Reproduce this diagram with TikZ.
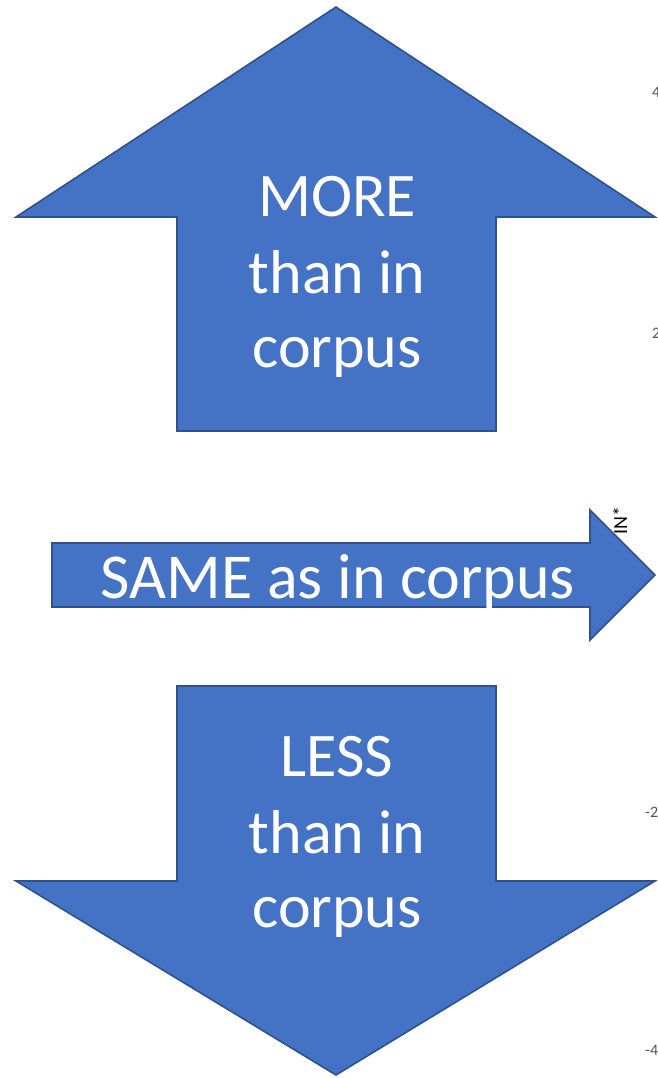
\documentclass[tikz,border=0pt]{standalone}
\usepackage{fontspec}
\setmainfont{Carlito}
\definecolor{arrowfill}{HTML}{4472C4}
\definecolor{arrowedge}{HTML}{2F528F}
\definecolor{axisgray}{HTML}{555555}
\begin{document}
\begin{tikzpicture}[x=1pt,y=-1pt,
  arrowshape/.style={fill=arrowfill,draw=arrowedge,line width=1.6pt,line join=miter},
  bigtext/.style={text=white,font=\fontsize{62}{75}\selectfont,align=center,inner sep=0pt},
  axislabel/.style={text=axisgray,font=\fontsize{16}{18}\selectfont,inner sep=0pt}]
\useasboundingbox (0,0) rectangle (657,1078);
\begin{scope}
\clip (0,0) rectangle (657,1078);
% clipped axis fragments at the right edge
\node[axislabel,anchor=west] (t4) at (652,92) {4};
\node[axislabel,anchor=west] (t2) at (652,333) {2};
\node[axislabel,anchor=west] (tm2) at (645,812) {-2};
\node[axislabel,anchor=west] (tm4) at (645,1050) {-4};
\node[axislabel,rotate=90,anchor=east,text=black,font=\fontsize{20}{22}\selectfont] (tn) at (620,506) {IN*};
% up arrow
\draw[arrowshape] (336,7) -- (655,217) -- (496,217) -- (496,431) -- (177,431) -- (177,217) -- (16,217) -- cycle;
% right arrow
\draw[arrowshape] (52,543) -- (590,543) -- (590,510) -- (655,575) -- (590,640) -- (590,607) -- (52,607) -- cycle;
% down arrow
\draw[arrowshape] (177,686) -- (496,686) -- (496,881) -- (655,881) -- (336,1075) -- (16,881) -- (177,881) -- cycle;
\end{scope}
\node[bigtext,anchor=base] (more) at (337,216) {MORE};
\node[bigtext,anchor=base] (more2) at (337,293) {than in};
\node[bigtext,anchor=base] (more3) at (337,367) {corpus};
\node[bigtext,anchor=base,font=\fontsize{64}{75}\selectfont] (same) at (338,598) {SAME as in corpus};
\node[bigtext,anchor=base] (less) at (337,776) {LESS};
\node[bigtext,anchor=base] (less2) at (337,853) {than in};
\node[bigtext,anchor=base] (less3) at (337,927) {corpus};
\end{tikzpicture}
\end{document}
